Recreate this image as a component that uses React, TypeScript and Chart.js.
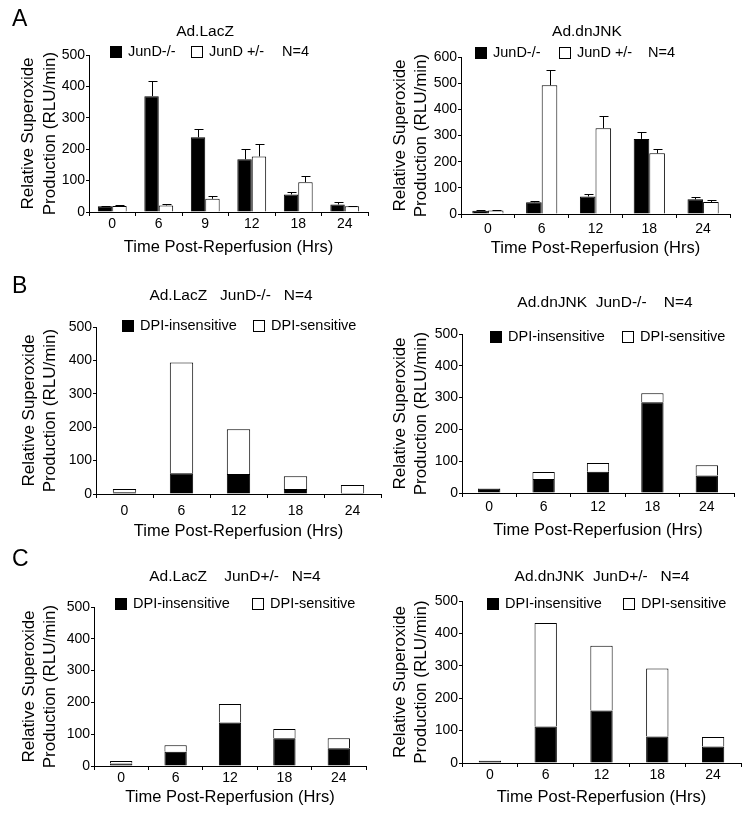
import React, { useEffect, useRef } from 'react';
import { Chart, registerables } from 'chart.js';

Chart.register(...registerables);

const FONT = '"Liberation Sans", Arial, Helvetica, sans-serif';
Chart.defaults.font.family = FONT;
Chart.defaults.color = '#000';

// ---------------- data ----------------
const hoursA = ['0', '6', '9', '12', '18', '24'];
const hours = ['0', '6', '12', '18', '24'];

const genotypeLabels = ['JunD-/-', 'JunD +/-'];
const dpiLabels = ['DPI-insensitive', 'DPI-sensitive'];
const nNote = 'N=4';

const titleA1 = 'Ad.LacZ';
const titleA2 = 'Ad.dnJNK';
const titleB1 = 'Ad.LacZ   JunD-/-   N=4';
const titleB2 = 'Ad.dnJNK  JunD-/-    N=4';
const titleC1 = 'Ad.LacZ    JunD+/-   N=4';
const titleC2 = 'Ad.dnJNK  JunD+/-   N=4';

const yTitle = ['Relative Superoxide', 'Production (RLU/min)'];
const xTitle = 'Time Post-Reperfusion (Hrs)';

// Panel A, Ad.LacZ
const lacZ_KO = [18, 369, 238, 168, 56, 24];
const lacZ_KO_err = [2, 48, 26, 33, 7, 8];
const lacZ_Het = [19, 21, 42, 177, 95, 18];
const lacZ_Het_err = [4, 3, 8, 40, 21, 2];

// Panel A, Ad.dnJNK
const dnJNK_KO = [12, 45, 67, 287, 56];
const dnJNK_KO_err = [3, 5, 9, 25, 8];
const dnJNK_Het = [13, 492, 328, 232, 46];
const dnJNK_Het_err = [2, 59, 47, 15, 9];

// Panel B (JunD-/-)
const lacZKO_insens = [5, 62, 60, 15, 3];
const lacZKO_sens = [10, 332, 134, 38, 24];
const dnJNKKO_insens = [13, 44, 67, 285, 55];
const dnJNKKO_sens = [2, 22, 27, 29, 32];

// Panel C (JunD+/-)
const lacZHet_insens = [8, 45, 137, 87, 56];
const lacZHet_sens = [8, 20, 58, 29, 31];
const dnJNKHet_insens = [7, 113, 162, 82, 51];
const dnJNKHet_sens = [1, 319, 200, 210, 29];

const BLACK = '#000000';
const WHITE = '#ffffff';

// ---------------- layout specs ----------------
type Series = { label: string; data: number[]; err?: number[]; fill: string };
type Spec = {
  id: string; x: number; y: number; w: number; h: number;
  padTop: number; padRight: number; yAxisW: number; xAxisH: number;
  yTitlePad: number; xLabelPad: number; xTitlePadB: number;
  yMax: number; labels: string[]; series: Series[]; stacked: boolean; catPct: number;
  title: string; titleX: number; titleY: number;
  legendY: number; legendXs: number[]; note?: string; noteX?: number;
};

const PANELS: Spec[] = [
  {
    id: 'a1', x: 0, y: 20, w: 375, h: 240,
    padTop: 35, padRight: 7, yAxisW: 89, xAxisH: 48,
    yTitlePad: 18, xLabelPad: 0, xTitlePadB: 3,
    yMax: 500, labels: hoursA, stacked: false, catPct: 0.62,
    series: [
      { label: genotypeLabels[0], data: lacZ_KO, err: lacZ_KO_err, fill: BLACK },
      { label: genotypeLabels[1], data: lacZ_Het, err: lacZ_Het_err, fill: WHITE },
    ],
    title: titleA1, titleX: 205, titleY: 32,
    legendY: 52, legendXs: [110, 191], note: nNote, noteX: 282,
  },
  {
    id: 'a2', x: 375, y: 20, w: 376, h: 240,
    padTop: 37, padRight: 21, yAxisW: 86, xAxisH: 46,
    yTitlePad: 14.4, xLabelPad: 3, xTitlePadB: 2,
    yMax: 600, labels: hours, stacked: false, catPct: 0.58,
    series: [
      { label: genotypeLabels[0], data: dnJNK_KO, err: dnJNK_KO_err, fill: BLACK },
      { label: genotypeLabels[1], data: dnJNK_Het, err: dnJNK_Het_err, fill: WHITE },
    ],
    title: titleA2, titleX: 587, titleY: 32,
    legendY: 53, legendXs: [475, 559], note: nNote, noteX: 648,
  },
  {
    id: 'b1', x: 0, y: 260, w: 383, h: 285,
    padTop: 67, padRight: 2, yAxisW: 96, xAxisH: 51,
    yTitlePad: 18.4, xLabelPad: 5, xTitlePadB: 4,
    yMax: 500, labels: hours, stacked: true, catPct: 0.41,
    series: [
      { label: dpiLabels[0], data: lacZKO_insens, fill: BLACK },
      { label: dpiLabels[1], data: lacZKO_sens, fill: WHITE },
    ],
    title: titleB1, titleX: 231, titleY: 296,
    legendY: 326, legendXs: [122, 253],
  },
  {
    id: 'b2', x: 375, y: 260, w: 376, h: 285,
    padTop: 74, padRight: 17, yAxisW: 87, xAxisH: 52,
    yTitlePad: 14.4, xLabelPad: 2, xTitlePadB: 5,
    yMax: 500, labels: hours, stacked: true, catPct: 0.41,
    series: [
      { label: dpiLabels[0], data: dnJNKKO_insens, fill: BLACK },
      { label: dpiLabels[1], data: dnJNKKO_sens, fill: WHITE },
    ],
    title: titleB2, titleX: 605, titleY: 303,
    legendY: 337, legendXs: [490, 622],
  },
  {
    id: 'c1', x: 0, y: 545, w: 375, h: 270,
    padTop: 62, padRight: 9, yAxisW: 94, xAxisH: 49,
    yTitlePad: 18.4, xLabelPad: 0, xTitlePadB: 8,
    yMax: 500, labels: hours, stacked: true, catPct: 0.41,
    series: [
      { label: dpiLabels[0], data: lacZHet_insens, fill: BLACK },
      { label: dpiLabels[1], data: lacZHet_sens, fill: WHITE },
    ],
    title: titleC1, titleX: 235, titleY: 577,
    legendY: 604, legendXs: [115, 252],
  },
  {
    id: 'c2', x: 375, y: 545, w: 376, h: 270,
    padTop: 56, padRight: 10, yAxisW: 87, xAxisH: 52,
    yTitlePad: 14.4, xLabelPad: 0, xTitlePadB: 8,
    yMax: 500, labels: hours, stacked: true, catPct: 0.40,
    series: [
      { label: dpiLabels[0], data: dnJNKHet_insens, fill: BLACK },
      { label: dpiLabels[1], data: dnJNKHet_sens, fill: WHITE },
    ],
    title: titleC2, titleX: 602, titleY: 577,
    legendY: 604, legendXs: [487, 623],
  },
];

// ---------------- plugins ----------------
function decorPlugin(s: Spec) {
  return {
    id: 'decor_' + s.id,
    afterDatasetsDraw(chart: any) {
      const ctx = chart.ctx;
      const yScale = chart.scales.y;
      ctx.save();
      ctx.strokeStyle = '#000';
      ctx.lineWidth = 1;
      s.series.forEach((ser, i) => {
        if (!ser.err) return;
        const meta = chart.getDatasetMeta(i);
        meta.data.forEach((el: any, j: number) => {
          const x = Math.round(el.x) + 0.5;
          const y0 = el.y;
          const y1 = Math.round(yScale.getPixelForValue(ser.data[j] + ser.err![j])) + 0.5;
          ctx.beginPath();
          ctx.moveTo(x, y0);
          ctx.lineTo(x, y1);
          ctx.moveTo(x - 4, y1);
          ctx.lineTo(x + 5, y1);
          ctx.stroke();
        });
      });
      ctx.restore();
    },
    afterDraw(chart: any) {
      const ctx = chart.ctx;
      ctx.save();
      ctx.fillStyle = '#000';
      ctx.font = `15.5px ${FONT}`;
      ctx.textAlign = 'center';
      ctx.textBaseline = 'middle';
      ctx.fillText(s.title, s.titleX - s.x, s.titleY - s.y);
      ctx.font = `14.5px ${FONT}`;
      ctx.textAlign = 'left';
      const ly = s.legendY - s.y;
      s.series.forEach((ser, i) => {
        const bx = s.legendXs[i] - s.x;
        ctx.fillStyle = ser.fill;
        ctx.fillRect(bx, ly - 6, 12, 12);
        ctx.strokeStyle = '#000';
        ctx.lineWidth = 1;
        ctx.strokeRect(bx + 0.5, ly - 5.5, 11, 11);
        ctx.fillStyle = '#000';
        ctx.fillText(ser.label, bx + 18, ly);
      });
      if (s.note && s.noteX !== undefined) ctx.fillText(s.note, s.noteX - s.x, ly);
      ctx.restore();
    },
  };
}

function buildConfig(s: Spec): any {
  return {
    type: 'bar',
    data: {
      labels: s.labels,
      datasets: s.series.map((ser) => ({
        label: ser.label,
        data: ser.data,
        backgroundColor: ser.fill,
        borderColor: '#000',
        borderWidth: 1,
        barPercentage: 1,
        categoryPercentage: s.catPct,
      })),
    },
    options: {
      responsive: false,
      animation: false,
      devicePixelRatio: 1,
      layout: { padding: { top: s.padTop, right: s.padRight, left: 0, bottom: 0 } },
      plugins: { legend: { display: false }, title: { display: false }, tooltip: { enabled: false } },
      scales: {
        x: {
          stacked: s.stacked,
          grid: { display: true, drawOnChartArea: false, drawTicks: true, tickLength: 4, color: '#000', offset: true },
          border: { display: true, color: '#000', width: 1 },
          ticks: { font: { size: 14 }, color: '#000', padding: s.xLabelPad, maxRotation: 0, autoSkip: false },
          title: { display: true, text: xTitle, font: { size: 16.5 }, color: '#000', padding: { top: 0, bottom: s.xTitlePadB } },
          afterFit: (sc: any) => { sc.height = s.xAxisH; },
        },
        y: {
          stacked: s.stacked,
          min: 0,
          max: s.yMax,
          ticks: { stepSize: 100, font: { size: 14 }, color: '#000', padding: 1 },
          grid: { display: true, drawOnChartArea: false, drawTicks: true, tickLength: 3, color: '#000' },
          border: { display: true, color: '#000', width: 1 },
          title: { display: true, text: yTitle, font: { size: 17, lineHeight: 1.25 }, color: '#000', padding: { top: s.yTitlePad, bottom: 0 } },
          afterFit: (sc: any) => { sc.width = s.yAxisW; },
        },
      },
    },
    plugins: [decorPlugin(s)],
  };
}

function Panel({ spec }: { spec: Spec }) {
  const ref = useRef<HTMLCanvasElement>(null);
  useEffect(() => {
    if (!ref.current) return;
    const chart = new Chart(ref.current, buildConfig(spec));
    return () => chart.destroy();
  }, [spec]);
  return (
    <canvas
      ref={ref}
      width={spec.w}
      height={spec.h}
      style={{ position: 'absolute', left: spec.x, top: spec.y, width: spec.w, height: spec.h }}
    />
  );
}

const letterStyle = (top: number): React.CSSProperties => ({
  position: 'absolute', left: 12, top, fontSize: 23, lineHeight: '23px', fontFamily: FONT, color: '#000',
});

export default function App() {
  return (
    <div style={{ position: 'absolute', left: 0, top: 0, width: 751, height: 815, background: '#fff', overflow: 'hidden' }}>
      {PANELS.map((p) => <Panel key={p.id} spec={p} />)}
      <div style={letterStyle(7)}>A</div>
      <div style={letterStyle(274)}>B</div>
      <div style={letterStyle(547)}>C</div>
    </div>
  );
}
